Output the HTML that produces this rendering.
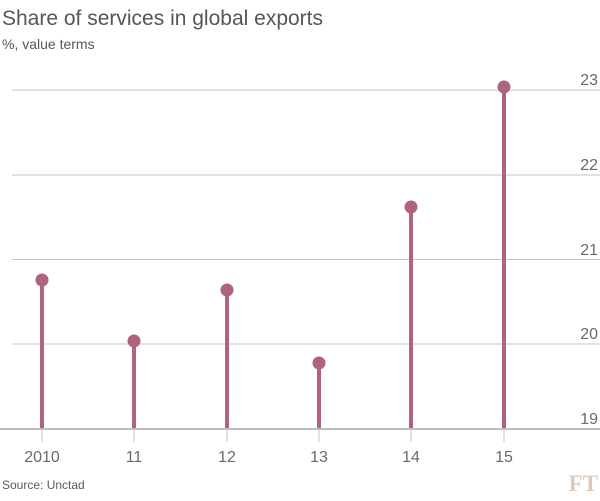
<!DOCTYPE html>
<html><head><style>
body{margin:0;background:#fff;}
svg text{font-family:"Liberation Sans",sans-serif;fill:#555;}
</style></head><body>
<svg width="600" height="496" xmlns="http://www.w3.org/2000/svg">
<text x="2" y="25" font-size="21" style="fill:#5a5552">Share of services in global exports</text>
<text x="2" y="49" font-size="14" style="fill:#5a5552">%, value terms</text>
<g stroke="#c4c4c4" stroke-width="1">
<line x1="12" x2="600" y1="90" y2="90"/>
<line x1="12" x2="600" y1="175" y2="175"/>
<line x1="12" x2="600" y1="259.5" y2="259.5"/>
<line x1="12" x2="600" y1="344" y2="344"/>
</g>
<g font-size="16" text-anchor="end" style="fill:#6a6a6a">
<text x="598" y="85" style="fill:#6a6a6a">23</text>
<text x="598" y="170" style="fill:#6a6a6a">22</text>
<text x="598" y="255" style="fill:#6a6a6a">21</text>
<text x="598" y="339" style="fill:#6a6a6a">20</text>
<text x="598" y="424" style="fill:#6a6a6a">19</text>
</g>
<g stroke="#c4c4c4" stroke-width="1">
<line x1="42" x2="42" y1="429" y2="442"/>
<line x1="134" x2="134" y1="429" y2="442"/>
<line x1="227" x2="227" y1="429" y2="442"/>
<line x1="319" x2="319" y1="429" y2="442"/>
<line x1="411" x2="411" y1="429" y2="442"/>
<line x1="504" x2="504" y1="429" y2="442"/>
</g>
<g stroke="#b0637e" stroke-width="4">
<line x1="42" x2="42" y1="280" y2="430"/>
<line x1="134" x2="134" y1="341" y2="429"/>
<line x1="227" x2="227" y1="290" y2="429"/>
<line x1="319" x2="319" y1="363" y2="429"/>
<line x1="411" x2="411" y1="207" y2="429"/>
<line x1="504" x2="504" y1="87" y2="429"/>
</g>
<line x1="0" x2="600" y1="429" y2="429" stroke="#bdbdbd" stroke-width="2"/>
<g fill="#b0637e">
<circle cx="42" cy="280" r="6.5"/>
<circle cx="134" cy="341" r="6.5"/>
<circle cx="227" cy="290" r="6.5"/>
<circle cx="319" cy="363" r="6.5"/>
<circle cx="411" cy="207" r="6.5"/>
<circle cx="504" cy="87" r="6.5"/>
</g>
<g font-size="16" text-anchor="middle">
<text x="42" y="462" style="fill:#6a6a6a">2010</text>
<text x="134" y="462" style="fill:#6a6a6a">11</text>
<text x="227" y="462" style="fill:#6a6a6a">12</text>
<text x="319" y="462" style="fill:#6a6a6a">13</text>
<text x="411" y="462" style="fill:#6a6a6a">14</text>
<text x="504" y="462" style="fill:#6a6a6a">15</text>
</g>
<text x="2" y="489" font-size="12" style="fill:#5a5a5a">Source: Unctad</text>
<text x="598" y="491" font-size="23" text-anchor="end" style="font-family:'Liberation Serif',serif;fill:#dbc9bb;font-weight:bold">FT</text>
</svg>
</body></html>
